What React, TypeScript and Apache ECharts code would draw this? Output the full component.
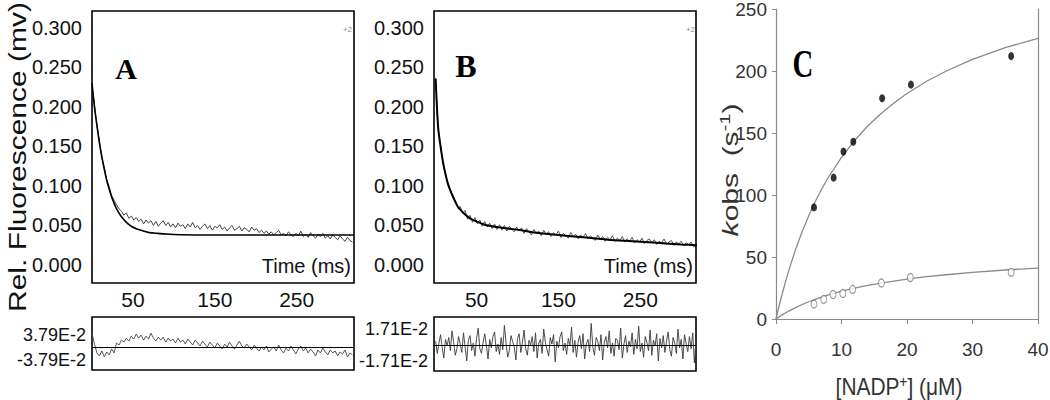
import React, { useEffect, useRef } from "react";
import * as echarts from "echarts";

// ---------- data ----------
const SAMPLE_STEP_MS = 3; // spacing of the recorded traces (ms)
const RESID_B_STEP_MS = 2; // spacing of the panel B residual record (ms)

// Panel A: stopped-flow trace (values in 1e-3 mV)
const traceA = [
  228, 203, 176, 158, 136, 124, 108, 99, 88, 82, 76, 71, 68, 63, 66, 59, 62, 57, 60, 55,
  58, 52, 57, 53, 56, 50, 55, 49, 53, 56, 50, 54, 48, 52, 47, 53, 49, 51, 46, 52,
  48, 54, 47, 50, 45, 49, 52, 46, 50, 44, 49, 47, 51, 45, 48, 43, 47, 50, 44, 46,
  49, 43, 47, 45, 42, 48, 44, 46, 41, 44, 40, 43, 39, 42, 38, 41, 44, 38, 40, 37,
  42, 38, 36, 40, 37, 43, 36, 39, 35, 41, 37, 34, 39, 36, 40, 34, 37, 33, 38, 35,
  32, 37, 33, 30, 35, 31, 29,
];
const fitATime = [0, 3, 6, 9, 12, 15, 18, 21, 24, 27, 30, 36, 42, 48, 54, 60, 70, 80, 95, 110, 140, 200, 260, 320];
const fitAValue = [230, 200, 177, 155, 137, 121, 107, 96, 86, 78, 71, 61, 54, 49, 46, 44, 41, 40, 39, 38.3, 38, 38, 38, 38];
// Panel A residuals (1e-3 units)
const residA = [
  42, 9, -18, -27, -12, -30, -15, -24, -6, -18, 12, 6, 21, 15, 27, 18, 33, 24, 39, 27,
  36, 21, 33, 24, 42, 27, 18, 30, 21, 30, 15, 27, 18, 24, 12, 27, 15, 21, 9, 24,
  15, 6, 21, 12, 3, 18, 9, 0, 15, 6, -3, 12, 3, -6, 9, 0, 15, 3, -6, 6,
  18, 3, -3, 9, 0, -9, 6, -3, -12, 0, -9, 3, -15, -6, 0, -12, 6, -9, -18, -3,
  -12, 3, -9, -21, -6, 3, -12, -3, -18, -6, -15, -27, -9, -18, -3, -15, -24, -9, -18, -12,
  -27, -15, -21, -9, -30, -18, -24,
];

// Panel B
const traceB = [
  236, 172, 152, 128, 117, 101, 96, 85, 82, 72, 74, 65, 69, 58, 63, 54, 60, 52, 57, 49,
  55, 48, 53, 46, 52, 45, 51, 44, 50, 43, 49, 45, 42, 48, 43, 47, 40, 46, 42, 38,
  45, 40, 43, 37, 44, 39, 42, 36, 41, 38, 43, 35, 40, 37, 34, 41, 36, 39, 33, 38,
  35, 40, 33, 37, 34, 31, 38, 33, 36, 30, 35, 32, 37, 30, 34, 31, 36, 29, 33, 30,
  35, 28, 32, 29, 34, 27, 31, 33, 28, 32, 26, 30, 28, 33, 26, 29, 31, 25, 29, 27,
  30, 24, 28, 26, 29, 23, 25,
];
const fitBTime = [0, 3, 6, 9, 12, 15, 18, 21, 24, 27, 30, 36, 42, 48, 60, 75, 90, 105, 120, 150, 180, 210, 240, 270, 300, 320];
const fitBValue = [236, 175, 150, 130, 115, 103, 94, 87, 80, 74, 70, 64, 59, 56, 51, 48, 46, 44, 41, 38, 35, 32, 30, 28, 26, 25];
const residB = [
  4, -9, 2, 11, -3, -14, 6, -1, 8, -6, 15, 3, -11, -4, 9, 1, -8, 13, -2, -17,
  5, 10, -6, 2, -12, 7, 18, -4, -9, 3, 12, -1, -15, 6, -3, 9, 14, -7, 1, -10,
  8, -5, 21, 2, -13, -6, 10, 4, -2, -16, 7, 12, -8, 3, 16, -4, -11, 5, 0, 9,
  -7, 13, -14, 2, 6, -9, 17, 3, -5, -12, 8, 1, 11, -18, 4, -3, 9, 14, -6, 2,
  -10, 7, -1, 19, -8, 5, -13, 3, 10, -4, 12, -15, 1, 6, -7, 23, -2, -11, 8, 4,
  -6, 11, -16, 3, 9, -3, 15, -9, 2, -12, 7, 5, -5, 18, -14, 1, 10, -8, 4, -2,
  13, -10, 6, -4, 20, -7, 2, -13, 9, 3, -6, 16, -11, 5, -1, 12, -17, 7, -3, 10,
  -8, 4, 14, -5, -12, 8, 2, -9, 17, -3, 6, -15, 11, 1, -7, 9, -4, 13, -19, 5,
];

// Tick labels
const fluorTicks = [0, 0.05, 0.1, 0.15, 0.2, 0.25, 0.3];
const timeTicks = [50, 150, 250];
const residATicks = [-0.0379, 0.0379];
const residATickLabels = ["-3.79E-2", "3.79E-2"];
const residBTicks = [-0.0171, 0.0171];
const residBTickLabels = ["-1.71E-2", "1.71E-2"];

// Panel C
const nadpFilled = [5.8, 8.8, 10.3, 11.8, 16.2, 20.6, 35.9];
const kobsFilled = [90, 114, 135, 143, 178, 189, 212];
const nadpOpen = [5.8, 7.3, 8.7, 10.2, 11.7, 16.1, 20.5, 35.9];
const kobsOpen = [12, 15.8, 19.8, 20.6, 23.8, 29.1, 33.4, 37.7];
const fitCX = [0, 0.25, 0.5, 1, 1.5, 2, 3, 4, 5, 6, 7, 8, 10, 12, 14, 16, 18, 20, 23, 26, 30, 35, 40];
const fitCUpper = [0, 5.7, 11.1, 21.4, 31, 40, 56.3, 70.6, 83.3, 94.7, 105, 114.3, 130.4, 144, 155.6, 165.5, 174.2, 181.8, 191.7, 200, 209.3, 218.8, 226.4];
const fitCLower = [0, 0.9, 1.8, 3.5, 5, 6.5, 9.2, 11.7, 13.9, 15.9, 17.7, 19.4, 22.4, 24.9, 27.1, 29, 30.6, 32.1, 34.1, 35.7, 37.6, 39.5, 41.1];

// ---------- helpers ----------
const SANS = "'Liberation Sans', Arial, sans-serif";
const SERIF = "'Liberation Serif', 'Times New Roman', serif";

const trace = (arr: number[], step = SAMPLE_STEP_MS) => arr.map((v, i) => [i * step, v / 1000]);
const pairs = (xs: number[], ys: number[], scale = 1) => xs.map((x, i) => [x, ys[i] / scale]);

const zeroLine = {
  silent: true,
  symbol: "none",
  label: { show: false },
  lineStyle: { color: "#000", width: 1.2, type: "solid" },
  data: [{ yAxis: 0 }],
};

function mainY(gridIndex: number) {
  return {
    type: "value",
    gridIndex,
    min: -0.0228,
    max: 0.3215,
    splitLine: { show: false },
    axisLine: { show: false },
    axisTick: { show: false },
    axisLabel: {
      customValues: fluorTicks,
      formatter: (v: number) => v.toFixed(3),
      fontFamily: SANS,
      fontSize: 20,
      color: "#111",
      margin: 10,
    },
  };
}

function mainX(gridIndex: number, min: number, max: number) {
  return {
    type: "value",
    gridIndex,
    min,
    max,
    splitLine: { show: false },
    axisLine: { show: false },
    axisTick: { show: false },
    axisLabel: {
      customValues: timeTicks,
      fontFamily: SANS,
      fontSize: 21,
      color: "#111",
      margin: 6,
    },
  };
}

function residY(gridIndex: number, min: number, max: number, ticks: number[], labels: string[]) {
  return {
    type: "value",
    gridIndex,
    min,
    max,
    splitLine: { show: false },
    axisLine: { show: false },
    axisTick: { show: false },
    axisLabel: {
      customValues: ticks,
      formatter: (v: number) => labels[ticks.indexOf(v)] ?? "",
      fontFamily: SANS,
      fontSize: 18,
      color: "#111",
      margin: 6,
    },
  };
}

export default function App() {
  const ref = useRef<HTMLDivElement>(null);

  useEffect(() => {
    if (!ref.current) return;
    const chart = echarts.init(ref.current, undefined, { renderer: "svg" });

    const gridBox = {
      show: true,
      borderColor: "#000",
      borderWidth: 1.6,
      backgroundColor: "#fff",
      outerBoundsMode: "none",
      containLabel: false,
    };

    const option: any = {
      animation: false,
      backgroundColor: "#fff",
      grid: [
        { left: 92, top: 11, width: 262, height: 272, ...gridBox },
        { left: 92, top: 317, width: 262, height: 53, ...gridBox },
        { left: 434, top: 11, width: 262, height: 272, ...gridBox },
        { left: 434, top: 317, width: 262, height: 54, ...gridBox },
        { left: 776, top: 9, width: 262, height: 310, show: false, outerBoundsMode: "none", containLabel: false },
      ],
      xAxis: [
        mainX(0, 0, 320),
        { type: "value", gridIndex: 1, min: 0, max: 320, show: false },
        mainX(2, -2, 318),
        { type: "value", gridIndex: 3, min: -2, max: 318, show: false },
        {
          type: "value",
          gridIndex: 4,
          min: 0,
          max: 40,
          interval: 10,
          splitLine: { show: false },
          axisLine: { show: true, lineStyle: { color: "#8a8a8a", width: 1.2 } },
          axisTick: { show: true, length: 5, lineStyle: { color: "#8a8a8a" } },
          axisLabel: { fontFamily: SANS, fontSize: 19, color: "#333", margin: 21 },
        },
      ],
      yAxis: [
        mainY(0),
        residY(1, -0.0697, 0.091, residATicks, residATickLabels),
        mainY(2),
        residY(3, -0.0278, 0.0299, residBTicks, residBTickLabels),
        {
          type: "value",
          gridIndex: 4,
          min: 0,
          max: 250,
          interval: 50,
          splitLine: { show: false },
          axisLine: { show: true, lineStyle: { color: "#8a8a8a", width: 1.2 } },
          axisTick: { show: true, length: 4, lineStyle: { color: "#8a8a8a" } },
          axisLabel: { fontFamily: SANS, fontSize: 19, lineHeight: 18, color: "#333", margin: 9 },
        },
        {
          type: "value",
          gridIndex: 4,
          position: "right",
          min: 0,
          max: 250,
          splitLine: { show: false },
          axisLine: { show: true, lineStyle: { color: "#8a8a8a", width: 1.2 } },
          axisTick: { show: false },
          axisLabel: { show: false },
        },
      ],
      series: [
        {
          type: "line",
          xAxisIndex: 0,
          yAxisIndex: 0,
          data: trace(traceA),
          symbol: "none",
          lineStyle: { color: "#444", width: 1 },
        },
        {
          type: "line",
          xAxisIndex: 0,
          yAxisIndex: 0,
          data: pairs(fitATime, fitAValue, 1000),
          symbol: "none",
          smooth: 0.3,
          lineStyle: { color: "#000", width: 1.6 },
        },
        {
          type: "line",
          xAxisIndex: 1,
          yAxisIndex: 1,
          data: trace(residA),
          symbol: "none",
          lineStyle: { color: "#444", width: 0.9 },
          markLine: zeroLine,
        },
        {
          type: "line",
          xAxisIndex: 2,
          yAxisIndex: 2,
          data: trace(traceB),
          symbol: "none",
          lineStyle: { color: "#555", width: 1 },
        },
        {
          type: "line",
          xAxisIndex: 2,
          yAxisIndex: 2,
          data: pairs(fitBTime, fitBValue, 1000),
          symbol: "none",
          smooth: 0.3,
          lineStyle: { color: "#000", width: 2 },
        },
        {
          type: "line",
          xAxisIndex: 3,
          yAxisIndex: 3,
          data: trace(residB, RESID_B_STEP_MS),
          symbol: "none",
          lineStyle: { color: "#3a3a3a", width: 0.9 },
          markLine: zeroLine,
        },
        {
          type: "line",
          xAxisIndex: 4,
          yAxisIndex: 4,
          data: pairs(fitCX, fitCUpper),
          symbol: "none",
          lineStyle: { color: "#8a8a8a", width: 1.3 },
        },
        {
          type: "line",
          xAxisIndex: 4,
          yAxisIndex: 4,
          data: pairs(fitCX, fitCLower),
          symbol: "none",
          lineStyle: { color: "#8a8a8a", width: 1.3 },
        },
        {
          type: "scatter",
          xAxisIndex: 4,
          yAxisIndex: 4,
          data: pairs(nadpFilled, kobsFilled),
          symbol: "circle",
          symbolSize: [6, 8],
          itemStyle: { color: "#000" },
          z: 5,
        },
        {
          type: "scatter",
          xAxisIndex: 4,
          yAxisIndex: 4,
          data: pairs(nadpOpen, kobsOpen),
          symbol: "circle",
          symbolSize: [6, 8],
          itemStyle: { color: "#fff", borderColor: "#777", borderWidth: 1 },
          z: 5,
        },
      ],
      graphic: [
        {
          type: "text",
          x: 17,
          y: 157,
          rotation: Math.PI / 2,
          scaleY: 0.82,
          style: {
            text: "Rel. Fluorescence (mv)",
            fontFamily: SANS,
            fontSize: 30,
            fill: "#111",
            align: "center",
            verticalAlign: "middle",
          },
        },
        {
          type: "text",
          x: 730,
          y: 170,
          rotation: Math.PI / 2,
          scaleY: 0.75,
          style: {
            text: "{i|k}obs  (s{sup|-1})",
            fontFamily: SANS,
            fontSize: 30,
            fill: "#333",
            align: "center",
            verticalAlign: "middle",
            rich: {
              i: { fontFamily: SANS, fontStyle: "italic", fontSize: 30, lineHeight: 34, fill: "#333" },
              sup: { fontFamily: SANS, fontSize: 20, lineHeight: 34, verticalAlign: "top", fill: "#333" },
            },
          },
        },
        {
          type: "text",
          x: 899,
          y: 387,
          scaleX: 0.87,
          style: {
            text: "[NADP{sup|+}] (μM)",
            fontFamily: SANS,
            fontSize: 24,
            fill: "#333",
            align: "center",
            verticalAlign: "middle",
            rich: {
              sup: { fontFamily: SANS, fontSize: 16, lineHeight: 28, verticalAlign: "top", fill: "#333" },
            },
          },
        },
        {
          type: "text",
          x: 126,
          y: 68,
          style: { text: "A", fontFamily: SERIF, fontWeight: "bold", fontSize: 30, fill: "#000", align: "center", verticalAlign: "middle" },
        },
        {
          type: "text",
          x: 466,
          y: 66,
          style: { text: "B", fontFamily: SERIF, fontWeight: "bold", fontSize: 32, fill: "#000", align: "center", verticalAlign: "middle" },
        },
        {
          type: "text",
          x: 803,
          y: 64,
          scaleX: 0.72,
          style: { text: "C", fontFamily: SERIF, fontWeight: "bold", fontSize: 40, fill: "#000", align: "center", verticalAlign: "middle" },
        },
        {
          type: "text",
          x: 351,
          y: 266,
          style: { text: "Time (ms)", fontFamily: SANS, fontSize: 20, fill: "#111", align: "right", verticalAlign: "middle" },
        },
        {
          type: "text",
          x: 693,
          y: 266,
          style: { text: "Time (ms)", fontFamily: SANS, fontSize: 20, fill: "#111", align: "right", verticalAlign: "middle" },
        },
        {
          type: "text",
          x: 352,
          y: 29,
          style: { text: "+2", fontFamily: SANS, fontSize: 8, fill: "#888", align: "right", verticalAlign: "middle" },
        },
        {
          type: "text",
          x: 695,
          y: 29,
          style: { text: "+2", fontFamily: SANS, fontSize: 8, fill: "#888", align: "right", verticalAlign: "middle" },
        },
      ],
    };

    chart.setOption(option);
    return () => chart.dispose();
  }, []);

  return (
    <div
      ref={ref}
      style={{ position: "fixed", left: 0, top: 0, width: 1050, height: 400, background: "#fff" }}
    />
  );
}
